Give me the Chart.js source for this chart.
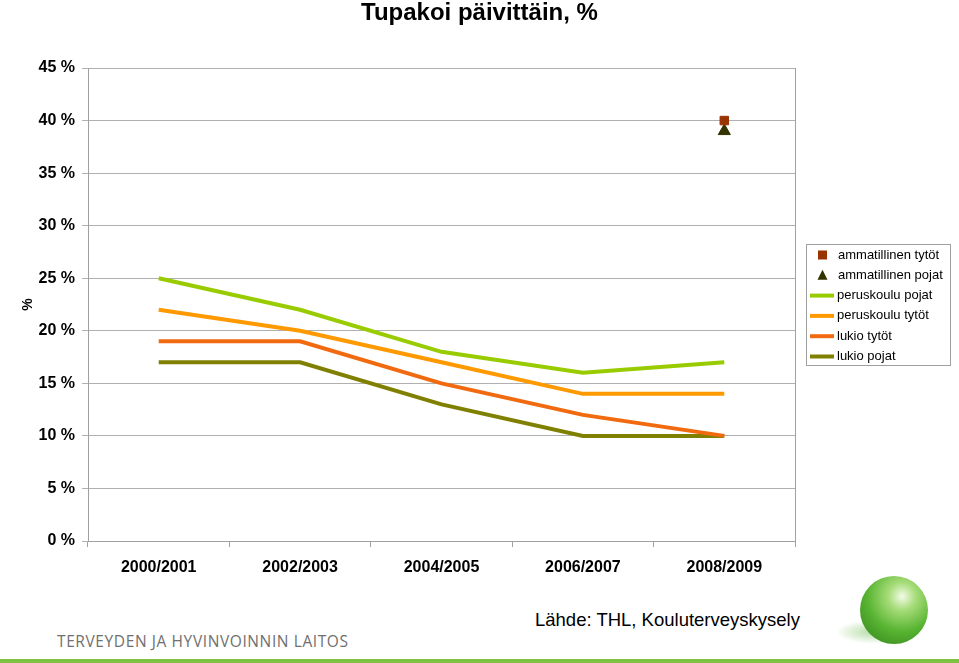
<!DOCTYPE html>
<html>
<head>
<meta charset="utf-8">
<script src="https://cdn.jsdelivr.net/npm/chart.js@4/dist/chart.umd.min.js"></script>
<style>
  body { margin: 0; background: #fff; }
  #wrap { position: relative; width: 959px; height: 663px; overflow: hidden; font-family: "Liberation Sans", Arial, sans-serif; }
  #box { position: absolute; left: 0; top: 0; width: 959px; height: 600px; }
  #title { position: absolute; left: 0; width: 959px; top: -2px; text-align: center; font-weight: bold; font-size: 24px; }
  #thl { position: absolute; left: 57px; top: 630px; font-family: "Open Sans", sans-serif; font-size: 15.5px; color: #707070; letter-spacing: 0.6px; }
  #src { position: absolute; left: 535px; top: 609px; font-size: 18.5px; color: #000; }
  #bar { position: absolute; left: 0; top: 659px; width: 959px; height: 4px; background: #7ec242; }
  #ball { position: absolute; left: 860px; top: 576px; width: 68px; height: 68px; border-radius: 50%;
          background: radial-gradient(circle at 62% 30%, #f2fbe8 0%, #a6dc78 22%, #58b432 55%, #2f7e18 100%); }
  #shadow { position: absolute; left: 836px; top: 620px; width: 74px; height: 24px; border-radius: 50%;
          background: radial-gradient(ellipse at center, rgba(120,190,90,0.55) 0%, rgba(200,230,190,0) 70%); }
</style>
</head>
<body>
<div id="wrap">
  <div id="box"><canvas id="grafico"></canvas></div>
  <div id="title">Tupakoi päivittäin, %</div>
  <div id="thl">TERVEYDEN JA HYVINVOINNIN LAITOS</div>
  <div id="src">Lähde: THL, Kouluterveyskysely</div>
  <div id="shadow"></div>
  <div id="ball"></div>
  <div id="bar"></div>
</div>
<script>
const vuodet = ["2000/2001", "2002/2003", "2004/2005", "2006/2007", "2008/2009"];
const ammatillinenTytot = [null, null, null, null, 40];
const ammatillinenPojat = [null, null, null, null, 39];
const peruskouluPojat = [25, 22, 18, 16, 17];
const peruskouluTytot = [22, 20, 17, 14, 14];
const lukioTytot = [19, 19, 15, 12, 10];
const lukioPojat = [17, 17, 13, 10, 10];

const plotRight = 795;
const fontti = '"Liberation Sans", Arial, sans-serif';

const kehysJaSelite = {
  id: 'kehysJaSelite',
  afterDraw(chart) {
    const ctx = chart.ctx;
    const a = chart.chartArea;
    ctx.save();
    // right border of the plot area
    ctx.strokeStyle = '#a0a0a0';
    ctx.lineWidth = 1;
    ctx.beginPath();
    ctx.moveTo(a.right + 0.5, a.top);
    ctx.lineTo(a.right + 0.5, a.bottom + 6);
    ctx.stroke();

    // legend box
    const x0 = 806, y0 = 244, w = 144, h = 121;
    ctx.fillStyle = '#fff';
    ctx.fillRect(x0, y0, w, h);
    ctx.strokeStyle = '#a0a0a0';
    ctx.strokeRect(x0 + 0.5, y0 + 0.5, w, h);
    ctx.font = '13px ' + fontti;
    ctx.textBaseline = 'middle';
    chart.data.datasets.forEach((ds, i) => {
      const y = 255 + i * 20.3;
      if (ds.showLine === false) {
        ctx.fillStyle = ds.pointBackgroundColor;
        if (ds.pointStyle === 'rect') {
          ctx.fillRect(818, y - 4.5, 9, 9);
        } else {
          ctx.beginPath();
          ctx.moveTo(822.5, y - 5.5);
          ctx.lineTo(827.5, y + 4.5);
          ctx.lineTo(817.5, y + 4.5);
          ctx.closePath();
          ctx.fill();
        }
      } else {
        ctx.strokeStyle = ds.borderColor;
        ctx.lineWidth = 4;
        ctx.beginPath();
        ctx.moveTo(810, y);
        ctx.lineTo(834, y);
        ctx.stroke();
      }
      ctx.fillStyle = '#000';
      ctx.textAlign = 'left';
      ctx.fillText(ds.label, ds.showLine === false ? 838 : 837, y);
    });
    ctx.restore();
  }
};

const ctx = document.getElementById('grafico').getContext('2d');
new Chart(ctx, {
  type: 'line',
  data: {
    labels: vuodet,
    datasets: [
      { label: 'ammatillinen tytöt', data: ammatillinenTytot, showLine: false, pointStyle: 'rect',
        pointRadius: 6, pointBackgroundColor: '#993300', pointBorderColor: '#993300', borderColor: '#993300' },
      { label: 'ammatillinen pojat', data: ammatillinenPojat, showLine: false, pointStyle: 'triangle',
        pointRadius: 7, pointBackgroundColor: '#333300', pointBorderColor: '#333300', borderColor: '#333300' },
      { label: 'peruskoulu pojat', data: peruskouluPojat, borderColor: '#99cc00', borderWidth: 4, pointRadius: 0 },
      { label: 'peruskoulu tytöt', data: peruskouluTytot, borderColor: '#ff9900', borderWidth: 4, pointRadius: 0 },
      { label: 'lukio tytöt', data: lukioTytot, borderColor: '#f26a10', borderWidth: 4, pointRadius: 0 },
      { label: 'lukio pojat', data: lukioPojat, borderColor: '#808000', borderWidth: 4, pointRadius: 0 }
    ]
  },
  options: {
    responsive: true,
    maintainAspectRatio: false,
    animation: false,
    layout: { padding: { top: 68, right: 959 - plotRight, left: 0, bottom: 0 } },
    plugins: {
      legend: { display: false },
      title: { display: false },
      tooltip: { enabled: false }
    },
    scales: {
      x: {
        offset: true,
        grid: { offset: true, drawOnChartArea: false, drawTicks: true, tickLength: 6, color: '#a0a0a0' },
        border: { color: '#a0a0a0' },
        ticks: { color: '#000', font: { family: fontti, size: 16, weight: 'bold' }, padding: 11 },
        afterFit: s => { s.height = 59; }
      },
      y: {
        min: 0, max: 45,
        grid: { color: '#b0b0b0', tickLength: 6 },
        border: { color: '#a0a0a0' },
        ticks: { stepSize: 5, color: '#000', padding: 7,
          font: { family: fontti, size: 16, weight: 'bold' },
          callback: v => v + ' %' },
        title: { display: true, text: '%', color: '#000', padding: { top: 20, bottom: 0 },
          font: { family: fontti, size: 14, weight: 'bold' } },
        afterFit: s => { s.width = 88; }
      }
    }
  },
  plugins: [kehysJaSelite]
});
</script>
</body>
</html>
